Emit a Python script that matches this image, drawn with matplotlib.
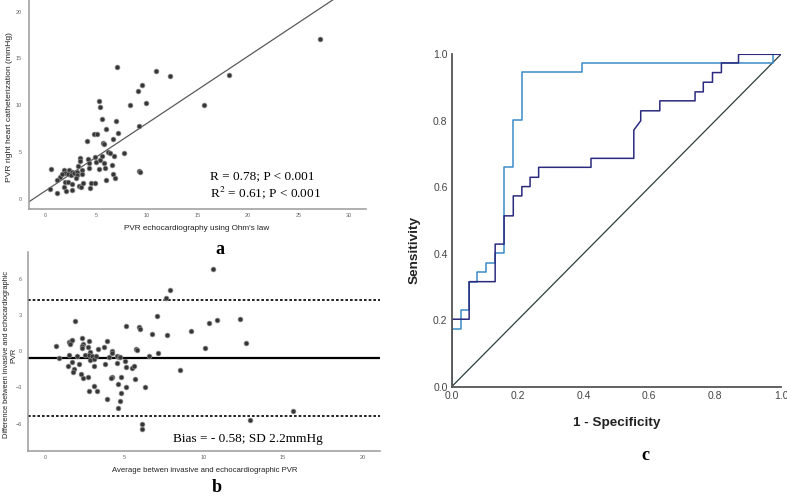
import numpy as np
import matplotlib
matplotlib.use('Agg')
import matplotlib.pyplot as plt

plt.rcParams['font.family'] = ['Liberation Sans', 'DejaVu Sans']

# panel a: echo PVR vs RHC PVR
a_x = [27.1, 18.1, 15.7, 7.1, 10.95, 12.3, 9.5, 9.15, 9.96, 8.3, 5.3, 5.37, 5.53, 6.97,
       6.0, 9.28, 7.12, 4.82, 5.08, 6.7, 4.06, 5.64, 5.74, 6.14, 7.79, 6.8, 9.2, 9.35,
       1.84, 2.27, 1.94, 2.24, 2.60, 2.50, 2.77, 3.07, 3.07, 3.16, 3.40, 3.43, 3.56, 3.00,
       3.59, 1.88, 2.17, 1.81, 2.04, 2.57, 2.60, 3.26, 3.50, 3.73, 4.22, 4.25, 4.32, 4.45,
       4.39, 4.88, 4.85, 4.98, 5.28, 5.38, 5.61, 5.77, 5.87, 5.97, 6.37, 6.56, 6.63, 6.89,
       1.42, 1.61, 1.15, 0.56, 0.39, 1.12]
a_y = [17.05, 13.2, 10.05, 14.1, 13.66, 13.1, 12.16, 11.55, 10.23, 10.05, 10.5, 9.85, 8.56, 8.35,
       7.45, 7.77, 7.06, 6.96, 6.96, 6.35, 6.17, 5.92, 5.85, 5.03, 4.88, 4.6, 3.0, 2.85,
       3.10, 3.07, 2.75, 2.68, 2.86, 2.57, 2.71, 2.89, 2.53, 3.50, 4.35, 4.00, 3.03, 2.18,
       2.68, 1.75, 1.82, 1.29, 0.82, 1.61, 0.96, 1.36, 1.29, 1.71, 4.21, 3.78, 3.25, 1.68,
       1.18, 1.68, 4.49, 3.92, 3.14, 4.10, 4.53, 3.78, 3.32, 1.96, 4.89, 3.64, 2.64, 2.21,
       2.36, 2.68, 2.0, 3.18, 1.0, 0.61]
fit_intercept = 0.86
fit_slope = 0.718

# panel b: Bland-Altman
b_x = [10.6, 7.9, 7.6, 7.04, 1.91, 10.82, 12.29, 10.36, 9.18, 5.08, 5.9, 6.01, 6.74, 7.67,
       12.69, 10.1, 7.1, 6.53, 5.74, 5.8, 8.51, 15.65, 12.9, 6.11, 6.11, 6.32, 5.13, 4.81,
       4.71, 4.6, 3.93, 4.6, 4.77, 4.22, 4.18, 3.26, 3.09, 2.79, 2.69, 2.37, 2.29, 1.81,
       1.79, 1.45, 1.7, 0.69, 0.86, 1.49, 1.5, 1.64, 1.72, 1.55, 2.04, 2.14, 2.33, 2.37,
       2.35, 2.31, 2.52, 2.77, 2.73, 2.84, 2.80, 2.84, 2.94, 3.09, 3.11, 3.21, 3.34, 3.74,
       3.89, 3.8, 4.05, 4.2, 4.22, 4.54, 4.52, 4.64, 4.72, 5.06, 5.08, 5.46, 5.63, 5.69]
b_y = [6.8, 5.03, 4.36, 2.93, 2.49, 2.6, 2.62, 2.32, 1.69, 2.07, 2.02, 1.82, 1.38, 1.30,
       0.66, 0.25, -0.14, -0.36, 0.19, 0.11, -1.55, -4.97, -5.69, -6.02, -6.44, -2.93, -2.93, -3.48,
       -4.09, -4.72, -3.98, -2.73, -2.1, -2.15, -2.25, -3.29, -2.87, -3.29, -2.1, -2.21, -1.88, -1.49,
       -1.74, -1.22, -0.86, 0.44, -0.58, -0.33, 0.72, 0.86, 0.95, 0.62, -0.39, -1.08, 1.08, 0.6,
       0.44, 0.25, -0.33, 0.88, 0.33, -0.08, -0.3, -0.72, -0.41, -0.64, -1.19, -0.41, 0.22, 0.33,
       0.86, -1.1, -0.5, 0.03, -0.17, -0.39, -1.0, -0.5, -0.45, -0.8, -1.27, -1.38, -1.19, -2.29]
bias = -0.58
upper_loa = 4.19
lower_loa = -5.35

# panel c: ROC curves
roc1_x = [0, 0, 0.027, 0.027, 0.053, 0.053, 0.078, 0.078, 0.105, 0.105, 0.132, 0.132, 0.159,
          0.159, 0.187, 0.187, 0.213, 0.213, 0.396, 0.396, 0.975, 0.975, 1.0]
roc1_y = [0, 0.174, 0.174, 0.231, 0.231, 0.316, 0.316, 0.344, 0.344, 0.373, 0.373, 0.401, 0.401,
          0.66, 0.66, 0.802, 0.802, 0.946, 0.946, 0.974, 0.974, 1.0, 1.0]
roc2_x = [0, 0, 0.053, 0.053, 0.132, 0.132, 0.159, 0.159, 0.187, 0.187, 0.213, 0.213, 0.238,
          0.238, 0.264, 0.264, 0.423, 0.423, 0.553, 0.553, 0.568, 0.574, 0.574, 0.632, 0.632,
          0.739, 0.739, 0.764, 0.764, 0.792, 0.792, 0.819, 0.819, 0.871, 0.871, 1.0]
roc2_y = [0, 0.203, 0.203, 0.316, 0.316, 0.429, 0.429, 0.514, 0.514, 0.574, 0.574, 0.602, 0.602,
          0.63, 0.63, 0.66, 0.66, 0.687, 0.687, 0.772, 0.792, 0.80, 0.83, 0.83, 0.86,
          0.86, 0.887, 0.887, 0.916, 0.916, 0.945, 0.945, 0.974, 0.974, 1.0, 1.0]

W, H = 787, 496
fig = plt.figure(figsize=(W / 100, H / 100), dpi=100)


def fx(px):
    return px / W


def fy(py):
    return 1 - py / H


def small_axes(ax):
    for s in ['top', 'right']:
        ax.spines[s].set_visible(False)
    for s in ['left', 'bottom']:
        ax.spines[s].set_color('#9a9a9a')
        ax.spines[s].set_linewidth(1.1)
    ax.tick_params(length=0, labelsize=4, labelcolor='#666666')
    ax.tick_params(axis='y', pad=5)
    ax.tick_params(axis='x', pad=3)


# ---- a ----
axa = fig.add_axes([fx(29), fy(209), fx(366 - 29), 209 / H])
axa.scatter(a_x, a_y, s=12, facecolor='#363636', edgecolor='#8a8a8a', linewidths=0.5, zorder=3)
xs = np.array([-1.65, 31.7])
axa.plot(xs, fit_intercept + fit_slope * xs, color='#5a5a5a', lw=0.9)
axa.set_xlim(-1.65, 31.7)
axa.set_ylim(-1.1, 21.25)
axa.set_xticks(range(0, 31, 5))
axa.set_yticks(range(0, 21, 5))
small_axes(axa)
fig.text(fx(210), fy(176), 'R = 0.78; P < 0.001', family='Liberation Serif', fontsize=9.5,
         va='center', ha='left')
fig.text(fx(210), fy(193), 'R$^2$ = 0.61; P < 0.001', family='Liberation Serif', fontsize=9.5,
         va='center', ha='left', math_fontfamily='stix')
fig.text(fx(10), fy(107), 'PVR right heart catheterization (mmHg)', rotation=90,
         ha='center', va='center', fontsize=6.1, color='#222222')
fig.text(fx(197), fy(229), "PVR echocardiography using Ohm's law", ha='center', va='center',
         fontsize=5.9, color='#222222')
fig.text(fx(220), fy(250), 'a', family='Liberation Serif', weight='bold', fontsize=13,
         ha='center', va='center')

# ---- b ----
axb = fig.add_axes([fx(27.7), fy(450.7), fx(380 - 27.7), (450.7 - 252) / H])
axb.scatter(b_x, b_y, s=12, facecolor='#363636', edgecolor='#8a8a8a', linewidths=0.5, zorder=3)
axb.axhline(bias, color='black', lw=1.6)
axb.axhline(upper_loa, color='black', lw=1.2, ls=(0, (1.6, 1.2)))
axb.axhline(lower_loa, color='black', lw=1.2, ls=(0, (1.6, 1.2)))
axb.set_xlim(-1.09, 21.1)
axb.set_ylim(-8.23, 8.2)
axb.set_xticks(range(0, 21, 5))
axb.set_yticks([-6, -3, 0, 3, 6])
small_axes(axb)
axb.tick_params(axis='y', pad=4)
fig.text(fx(173), fy(439), 'Bias = - 0.58; SD 2.2mmHg', family='Liberation Serif', fontsize=9.5,
         va='center', ha='left')
fig.text(fx(10), fy(355), 'Difference between invasive and echocardiographic\nPVR', rotation=90,
         ha='center', va='center', fontsize=5.3, color='#222222', linespacing=0.95)
fig.text(fx(205), fy(470), 'Average betwen invasive and echocardiographic PVR', ha='center',
         va='center', fontsize=5.6, color='#222222')
fig.text(fx(217), fy(487), 'b', family='Liberation Serif', weight='bold', fontsize=13,
         ha='center', va='center')

# ---- c ----
axc = fig.add_axes([fx(451.7), fy(386.7), fx(781 - 451.7), (386.7 - 54.3) / H])
axc.plot([0, 1], [0, 1], color='#2f3d3d', lw=0.9)
axc.plot(roc1_x, roc1_y, color='#3a8cc6', lw=1.1)
axc.plot(roc2_x, roc2_y, color='#2c2a7e', lw=1.1)
axc.set_xlim(0, 1)
axc.set_ylim(0, 1)
axc.set_xticks(np.arange(0, 1.01, 0.2))
axc.set_yticks(np.arange(0, 1.01, 0.2))
axc.xaxis.set_major_formatter(matplotlib.ticker.FormatStrFormatter('%.1f'))
axc.yaxis.set_major_formatter(matplotlib.ticker.FormatStrFormatter('%.1f'))
for s in ['top', 'right']:
    axc.spines[s].set_visible(False)
for s in ['left', 'bottom']:
    axc.spines[s].set_color('#555555')
    axc.spines[s].set_linewidth(1.3)
axc.tick_params(length=0, labelsize=7.5, labelcolor='#444444')
axc.tick_params(axis='y', pad=3)
axc.tick_params(axis='x', pad=3)
fig.text(fx(415), fy(250), 'Sensitivity', rotation=90, ha='center', va='center',
         fontsize=9.7, weight='bold', color='#222222')
fig.text(fx(617), fy(423), '1 - Specificity', ha='center', va='center',
         fontsize=9.7, weight='bold', color='#222222')
fig.text(fx(645), fy(455), 'c', family='Liberation Serif', weight='bold', fontsize=13,
         ha='center', va='center')

fig.savefig('out.png', dpi=100)
